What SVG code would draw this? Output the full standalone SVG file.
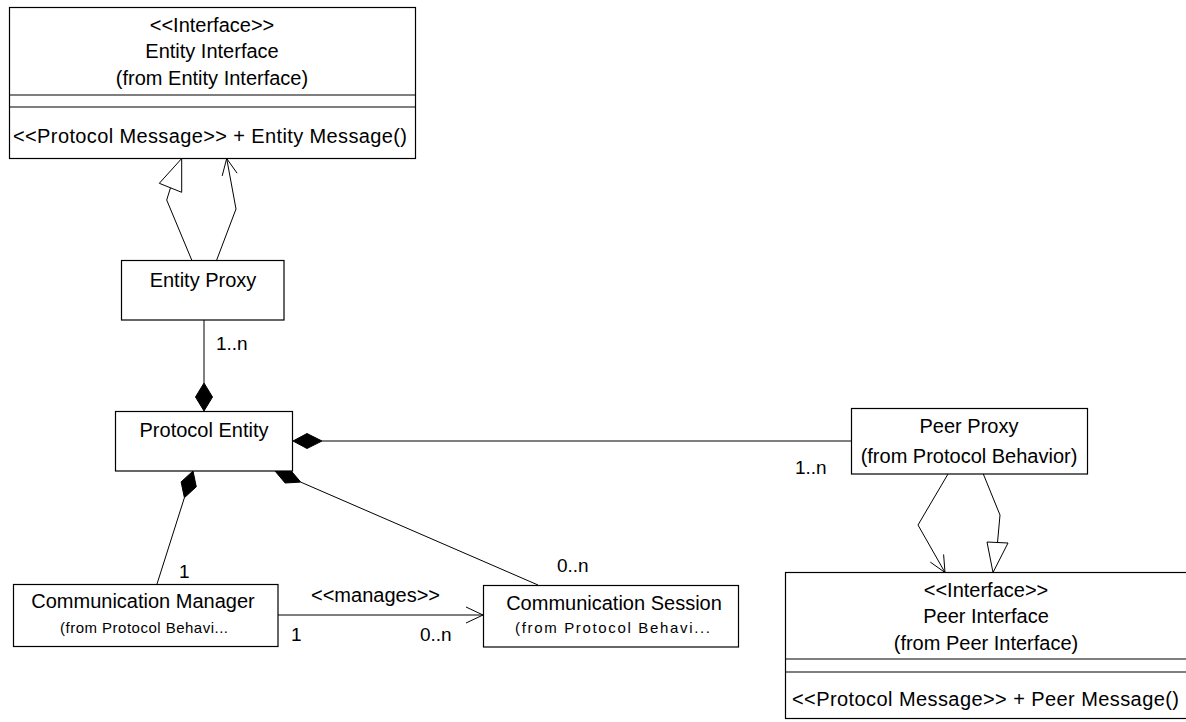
<svg xmlns="http://www.w3.org/2000/svg" width="1186" height="722" viewBox="0 0 1186 722">
  <style>
    .box { fill: #ffffff; stroke: #000000; stroke-width: 1.2; }
    .sep { stroke: #000000; stroke-width: 1.2; fill: none; }
    .t { font-family: "Liberation Sans", Arial, sans-serif; font-size: 20px; fill: #000000; }
    .c { text-anchor: middle; }
    .s { font-family: "Liberation Sans", Arial, sans-serif; font-size: 15px; fill: #000000; }
    .m { font-family: "Liberation Sans", Arial, sans-serif; font-size: 19px; fill: #000000; }
    .ln { stroke: #000000; stroke-width: 1; fill: none; }
    .hollow { stroke: #000000; stroke-width: 1; fill: #ffffff; }
    .solid { stroke: #000000; stroke-width: 1; fill: #000000; }
  </style>

  <rect width="1186" height="722" fill="#ffffff"/>

  <!-- connectors -->
  <g id="connectors">
    <!-- Entity Proxy realizes Entity Interface -->
    <polyline class="ln" points="191.7,260 166.7,200 170.5,187.8"/>
    <polygon class="hollow" points="181.7,158.5 159.3,183.3 181.7,192.3"/>
    <!-- Entity Proxy depends on Entity Interface -->
    <polyline class="ln" points="216.7,260 236,209 226.7,158.5"/>
    <polyline class="ln" points="222.2,175.9 226.7,158.5 237.1,173.2"/>

    <!-- Entity Proxy composed into Protocol Entity -->
    <line class="ln" x1="204" y1="320" x2="204" y2="383"/>
    <polygon class="solid" points="204,383 212.5,397 204,411 195.5,397"/>

    <!-- Protocol Entity to Peer Proxy -->
    <line class="ln" x1="322" y1="441" x2="851" y2="441"/>
    <polygon class="solid" points="293,441 307,433.5 322,441 307,448.5"/>

    <!-- Protocol Entity to Communication Manager -->
    <line class="ln" x1="157" y1="584" x2="184.4" y2="497.7"/>
    <polygon class="solid" points="193,471 196.3,486.8 184.4,497.7 181.1,481.9"/>

    <!-- Protocol Entity to Communication Session -->
    <line class="ln" x1="300.7" y1="482.1" x2="538" y2="585"/>
    <polygon class="solid" points="275,471 290.6,470.2 300.7,482.1 285.1,483"/>

    <!-- manages -->
    <line class="ln" x1="278" y1="615" x2="483" y2="615"/>
    <polyline class="ln" points="466,607 483,615 466,623"/>

    <!-- Peer Proxy depends on Peer Interface -->
    <polyline class="ln" points="948,474 918,525 945,572.5"/>
    <polyline class="ln" points="930.3,562.1 945,572.5 943.6,554.5"/>
    <!-- Peer Proxy realizes Peer Interface -->
    <polyline class="ln" points="983.3,474 1000,515 997.5,542.5"/>
    <polygon class="hollow" points="987,542 1008,543 993,572.5"/>

    <!-- multiplicities and labels -->
    <text class="m" x="216" y="350">1..n</text>
    <text class="m" x="795" y="474">1..n</text>
    <text class="m" x="179" y="578">1</text>
    <text class="m" x="557" y="572">0..n</text>
    <text class="t" x="311" y="602">&lt;&lt;manages&gt;&gt;</text>
    <text class="m" x="291" y="641">1</text>
    <text class="m" x="420" y="641">0..n</text>
  </g>

  <!-- Entity Interface -->
  <g id="entity-interface">
    <rect class="box" x="9.5" y="7.5" width="406" height="151"/>
    <line class="sep" x1="9.5" y1="95" x2="415.5" y2="95"/>
    <line class="sep" x1="9.5" y1="107" x2="415.5" y2="107"/>
    <text class="t c" x="212" y="32">&lt;&lt;Interface&gt;&gt;</text>
    <text class="t c" x="212" y="58">Entity Interface</text>
    <text class="t c" x="212" y="85">(from Entity Interface)</text>
    <text class="t" x="13" y="143" textLength="394" lengthAdjust="spacing">&lt;&lt;Protocol Message&gt;&gt; + Entity Message()</text>
  </g>

  <!-- Entity Proxy -->
  <g id="entity-proxy">
    <rect class="box" x="121.5" y="260.5" width="162.5" height="59.5"/>
    <text class="t c" x="203" y="287">Entity Proxy</text>
  </g>

  <!-- Protocol Entity -->
  <g id="protocol-entity">
    <rect class="box" x="115.5" y="411.5" width="177" height="59.5"/>
    <text class="t c" x="204" y="437">Protocol Entity</text>
  </g>

  <!-- Peer Proxy -->
  <g id="peer-proxy">
    <rect class="box" x="851.5" y="408.5" width="236" height="65.5"/>
    <text class="t c" x="969" y="433">Peer Proxy</text>
    <text class="t c" x="969" y="463">(from Protocol Behavior)</text>
  </g>

  <!-- Communication Manager -->
  <g id="communication-manager">
    <rect class="box" x="13.5" y="584.5" width="264.5" height="62"/>
    <text class="t c" x="143" y="608">Communication Manager</text>
    <text class="s" x="60" y="633" textLength="168" lengthAdjust="spacing">(from Protocol Behavi...</text>
  </g>

  <!-- Communication Session -->
  <g id="communication-session">
    <rect class="box" x="483.5" y="585.5" width="255" height="61.5"/>
    <text class="t c" x="614" y="610">Communication Session</text>
    <text class="s" x="515" y="633" textLength="195" lengthAdjust="spacing">(from Protocol Behavi...</text>
  </g>

  <!-- Peer Interface -->
  <g id="peer-interface">
    <rect class="box" x="785.5" y="572.5" width="402" height="146"/>
    <line class="sep" x1="785.5" y1="659" x2="1187" y2="659"/>
    <line class="sep" x1="785.5" y1="672" x2="1187" y2="672"/>
    <text class="t c" x="986" y="597">&lt;&lt;Interface&gt;&gt;</text>
    <text class="t c" x="986" y="623">Peer Interface</text>
    <text class="t c" x="986" y="650">(from Peer Interface)</text>
    <text class="t" x="792" y="706" textLength="387" lengthAdjust="spacing">&lt;&lt;Protocol Message&gt;&gt; + Peer Message()</text>
  </g>
</svg>
